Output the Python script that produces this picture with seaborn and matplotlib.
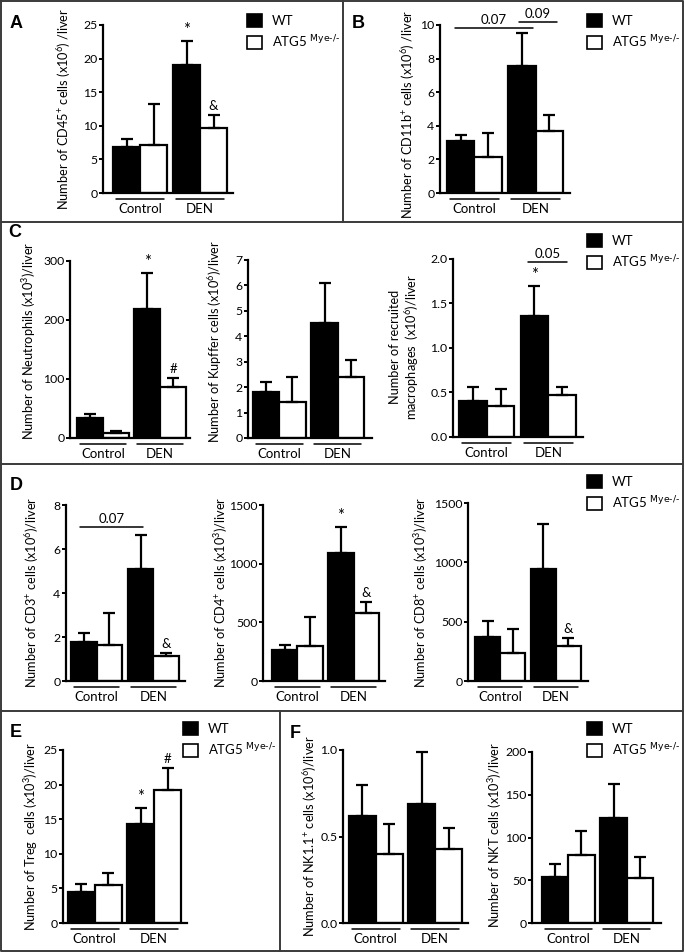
import numpy as np
import pandas as pd
import matplotlib
matplotlib.use("Agg")
import matplotlib.pyplot as plt
import matplotlib.patches as mpatches
from matplotlib.transforms import blended_transform_factory
import seaborn as sns

# --- dane (slupki: srednia, bledy: tylko gorne) ---
groups = ["Control", "DEN"]
genotypes = ["WT", "ATG5"]

cd45_wt, cd45_wt_err = [6.9, 19.0], [1.2, 3.6]
cd45_ko, cd45_ko_err = [7.1, 9.7], [6.2, 1.9]

cd11b_wt, cd11b_wt_err = [3.07, 7.54], [0.40, 1.98]
cd11b_ko, cd11b_ko_err = [2.12, 3.71], [1.48, 0.91]

neut_wt, neut_wt_err = [34, 218], [7, 62]
neut_ko, neut_ko_err = [9, 87], [3.5, 15]

kupf_wt, kupf_wt_err = [1.82, 4.51], [0.39, 1.57]
kupf_ko, kupf_ko_err = [1.40, 2.40], [1.01, 0.67]

macro_wt, macro_wt_err = [0.40, 1.36], [0.165, 0.34]
macro_ko, macro_ko_err = [0.35, 0.47], [0.19, 0.095]

cd3_wt, cd3_wt_err = [1.77, 5.10], [0.41, 1.55]
cd3_ko, cd3_ko_err = [1.64, 1.14], [1.45, 0.12]

cd4_wt, cd4_wt_err = [265, 1094], [43, 222]
cd4_ko, cd4_ko_err = [300, 581], [247, 94]

cd8_wt, cd8_wt_err = [373, 940], [135, 380]
cd8_ko, cd8_ko_err = [237, 297], [203, 67]

treg_wt, treg_wt_err = [4.5, 14.3], [1.1, 2.3]
treg_ko, treg_ko_err = [5.5, 19.2], [1.7, 3.2]

nk_wt, nk_wt_err = [0.62, 0.69], [0.18, 0.30]
nk_ko, nk_ko_err = [0.40, 0.43], [0.17, 0.12]

nkt_wt, nkt_wt_err = [54, 123], [15, 40]
nkt_ko, nkt_ko_err = [80, 53], [28, 24]

legend_labels = ["WT", r"ATG5 $^{\text{Mye-/-}}$"]

# --- ustawienia ---
sns.set_style("ticks")
plt.rcParams["font.family"] = ["Lato", "DejaVu Sans"]
plt.rcParams["mathtext.default"] = "regular"
for k in ["text.color", "axes.labelcolor", "xtick.color", "ytick.color", "axes.edgecolor"]:
    plt.rcParams[k] = "black"

W, H = 685, 952
fig = plt.figure(figsize=(W / 100, H / 100), dpi=100)

# nakladka w pikselach: ramki paneli i litery
ov = fig.add_axes([0, 0, 1, 1])
ov.set_xlim(0, W)
ov.set_ylim(H, 0)
ov.axis("off")
frame = dict(color="#3a3a3a", lw=1.4, clip_on=False)
ov.plot([1, 683, 683, 1, 1], [1, 1, 951, 951, 1], **frame)
for yy in [222, 464, 711]:
    ov.plot([1, 683], [yy, yy], **frame)
ov.plot([343, 343], [1, 222], **frame)
ov.plot([280, 280], [711, 951], **frame)
for letter, lx, ly in [("A", 10, 28), ("B", 352, 28), ("C", 8, 237),
                       ("D", 10, 490), ("E", 10, 737), ("F", 290, 738)]:
    ov.text(lx, ly, letter, fontsize=13, fontweight="bold",
            family="Liberation Sans", va="baseline")


def bar_panel(box, bars, wt, ko, wt_err, ko_err, ymax, step, ylabel, lab, dec=0, marks=()):
    x0, x1, yz, yt = box
    ax = fig.add_axes([x0 / W, 1 - yz / H, (x1 - x0) / W, (yz - yt) / H])
    df = pd.DataFrame({"group": groups * 2,
                       "genotype": ["WT"] * 2 + ["ATG5"] * 2,
                       "value": wt + ko})
    sns.barplot(data=df, x="group", y="value", hue="genotype", order=groups,
                hue_order=genotypes, palette={"WT": "black", "ATG5": "white"},
                width=0.9, edgecolor="black", linewidth=1.6, errorbar=None,
                legend=False, ax=ax)
    errs = wt_err + ko_err
    xs = [p.get_x() + p.get_width() / 2 for p in ax.patches]
    ys = [p.get_height() for p in ax.patches]
    ax.errorbar(xs, ys, yerr=[np.zeros(len(errs)), errs], fmt="none", ecolor="black",
                elinewidth=1.6, capsize=4.5, capthick=1.6, zorder=3, clip_on=False)

    bl, br = bars
    u = (br - bl) / 1.9
    ax.set_xlim(-0.45 - (bl - x0) / u, 1.45 + (x1 - br) / u)
    ax.set_ylim(0, ymax)
    ticks = np.arange(0, ymax + step / 2, step)
    ax.set_yticks(ticks)
    ax.set_yticklabels([f"{t:.{dec}f}" for t in ticks])
    ax.tick_params(axis="y", length=3, width=1.4, pad=1, labelsize=8.8)
    ax.set_xticks([0, 1])
    ax.set_xticklabels(groups)
    ax.tick_params(axis="x", length=0, pad=7, labelsize=9.5)
    ax.set_xlabel("")
    sns.despine(ax=ax)
    for s in ["left", "bottom"]:
        ax.spines[s].set_linewidth(1.6)

    # podkreslenia grup
    tr = blended_transform_factory(ax.transData, ax.transAxes)
    yl = -6 / (yz - yt)
    for c in [0, 1]:
        ax.plot([c - 0.4, c + 0.4], [yl, yl], transform=tr, color="black",
                lw=1.1, clip_on=False)

    ax.set_ylabel(ylabel, fontsize=9.2)
    ax.yaxis.set_label_coords((lab[0] - x0) / (x1 - x0), (yz - lab[1]) / (yz - yt))
    ax.yaxis.label.set_va("center")

    for idx, sym in marks:
        size = 12 if sym == "*" else 9.5
        ax.annotate(sym, (xs[idx], ys[idx] + errs[idx]), xytext=(0, 3),
                    textcoords="offset pixels", ha="center", va="bottom",
                    fontsize=size, annotation_clip=False)
    return ax


def bracket(ax, xa, xb, y, text):
    ax.plot([xa, xb], [y, y], color="black", lw=1.1, clip_on=False)
    ax.annotate(text, ((xa + xb) / 2, y), xytext=(0, 2), textcoords="offset pixels",
                ha="center", va="bottom", fontsize=9.5, annotation_clip=False)


def legend_at(x, y):
    handles = [mpatches.Patch(facecolor="black", edgecolor="black", lw=1.2),
               mpatches.Patch(facecolor="white", edgecolor="black", lw=1.2)]
    fig.legend(handles, legend_labels, loc="upper left",
               bbox_to_anchor=(x / W, 1 - y / H), frameon=False, fontsize=9.5,
               handlelength=1.12, handleheight=1.12, handletextpad=0.75,
               labelspacing=0.5, borderpad=0, borderaxespad=0)


# A
bar_panel((103, 233, 193, 25), (113, 227), cd45_wt, cd45_ko, cd45_wt_err, cd45_ko_err,
          25, 5, "Number of CD45$^{+}$ cells (x10$^{6}$) /liver", (64, 109),
          marks=[(1, "*"), (3, "&")])
legend_at(247, 14)

# B
axb = bar_panel((440, 570, 193, 25), (447, 563), cd11b_wt, cd11b_ko, cd11b_wt_err, cd11b_ko_err,
                10, 2, "Number of CD11b$^{+}$ cells (x10$^{6}$) /liver", (408, 114))
bracket(axb, -0.32, 0.96, 9.82, "0.07")
bracket(axb, 0.73, 1.35, 10.17, "0.09")
legend_at(587, 14)

# C
bar_panel((70, 190, 438, 261), (77, 186), neut_wt, neut_ko, neut_wt_err, neut_ko_err,
          300, 100, "Number of Neutrophils (x10$^{3}$)/liver", (29, 341),
          marks=[(1, "*"), (3, "#")])
bar_panel((248, 372, 438, 260), (253, 364), kupf_wt, kupf_ko, kupf_wt_err, kupf_ko_err,
          7, 1, "Number of Kupffer cells (x10$^{6}$)/liver", (215, 341))
axc = bar_panel((453, 583, 437, 259), (459, 576), macro_wt, macro_ko, macro_wt_err, macro_ko_err,
                2.0, 0.5, "Number of recruited\nmacrophages  (x10$^{6}$)/liver", (405, 347),
                dec=1, marks=[(1, "*")])
bracket(axc, 0.67, 1.30, 1.97, "0.05")
legend_at(587, 234)

# D
axd = bar_panel((66, 185, 681, 505), (71, 179), cd3_wt, cd3_ko, cd3_wt_err, cd3_ko_err,
                8, 2, "Number of CD3$^{+}$ cells (x10$^{6}$)/liver", (32, 592),
                marks=[(3, "&")])
bracket(axd, -0.29, 0.82, 7.0, "0.07")
bar_panel((263, 385, 681, 505), (272, 379), cd4_wt, cd4_ko, cd4_wt_err, cd4_ko_err,
          1500, 500, "Number of CD4$^{+}$ cells (x10$^{3}$)/liver", (221, 592),
          marks=[(1, "*"), (3, "&")])
bar_panel((468, 588, 681, 503), (475, 581), cd8_wt, cd8_ko, cd8_wt_err, cd8_ko_err,
          1500, 500, "Number of CD8$^{+}$ cells (x10$^{3}$)/liver", (421, 592),
          marks=[(3, "&")])
legend_at(587, 475)

# E
bar_panel((63, 187, 923, 750), (68, 181), treg_wt, treg_ko, treg_wt_err, treg_ko_err,
          25, 5, "Number of Treg  cells (x10$^{3}$)/liver", (31, 836),
          marks=[(1, "*"), (3, "#")])
legend_at(183, 722)

# F
bar_panel((343, 468, 923, 750), (349, 462), nk_wt, nk_ko, nk_wt_err, nk_ko_err,
          1.0, 0.5, "Number of NK1.1$^{+}$ cells (x10$^{6}$)/liver", (310, 836), dec=1)
bar_panel((532, 661, 923, 752), (542, 653), nkt_wt, nkt_ko, nkt_wt_err, nkt_ko_err,
          200, 50, "Number of NKT cells (x10$^{3}$)/liver", (495, 835))
legend_at(587, 722)

fig.savefig("out.png", dpi=100)
